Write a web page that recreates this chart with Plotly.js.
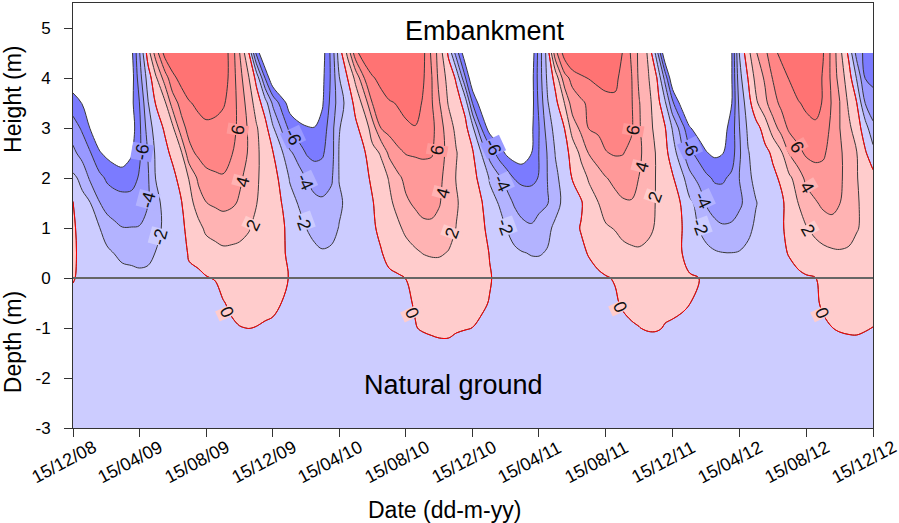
<!DOCTYPE html>
<html><head><meta charset="utf-8">
<script src="https://cdn.plot.ly/plotly-3.0.1.min.js"></script>
<style>html,body{margin:0;padding:0;background:#fff}#chart{width:899px;height:523px}</style>
</head><body><div id="chart"></div>
<script>
const FONT = 'Liberation Sans, Arial, sans-serif';

const dates = [
'2008-12-15',
'2009-01-01','2009-01-15','2009-02-01','2009-02-15','2009-03-01','2009-03-15','2009-04-01','2009-04-15','2009-05-01','2009-05-15','2009-06-01','2009-06-15',
'2009-07-01','2009-07-15','2009-08-01','2009-08-15','2009-09-01','2009-09-15','2009-10-01','2009-10-15','2009-11-01','2009-11-15','2009-12-01','2009-12-15',
'2010-01-01','2010-01-15','2010-02-01','2010-02-15','2010-03-01','2010-03-15','2010-04-01','2010-04-15','2010-05-01','2010-05-15','2010-06-01','2010-06-15',
'2010-07-01','2010-07-15','2010-08-01','2010-08-15','2010-09-01','2010-09-15','2010-10-01','2010-10-15','2010-11-01','2010-11-15','2010-12-01','2010-12-15',
'2011-01-01','2011-01-15','2011-02-01','2011-02-15','2011-03-01','2011-03-15','2011-04-01','2011-04-15','2011-05-01','2011-05-15','2011-06-01','2011-06-15',
'2011-07-01','2011-07-15','2011-08-01','2011-08-15','2011-09-01','2011-09-15','2011-10-01','2011-10-15','2011-11-01','2011-11-15','2011-12-01','2011-12-15',
'2012-01-01','2012-01-15','2012-02-01','2012-02-15','2012-03-01','2012-03-15','2012-04-01','2012-04-15','2012-05-01','2012-05-15','2012-06-01','2012-06-15',
'2012-07-01','2012-07-15','2012-08-01','2012-08-15','2012-09-01','2012-09-15','2012-10-01','2012-10-15','2012-11-01','2012-11-15','2012-12-01','2012-12-15'];

const heights = [-3, -1.5, -1, -0.5, 0, 0.5, 1, 1.5, 2, 2.5, 3, 3.5, 4, 4.5];

// temperature (deg C) rows, one per height
const tempH450 = [-11,-12,-13,-14,-15,-16,-16,-8.5,-4.3,1.0,
 4.9,8.8,10,11,11.5,11.5,11,10.5,9.2,7.1,
 4.1,0.1,-6.6,-11,-13,-14,-15,-15,-15,-14,
 -9,-5.4,-1.1,2.6,7.3,9.5,11,12,12.5,12.5,
 12,10.5,8.6,5.6,3.1,-0.4,-4.9,-9.5,-13,-14,
 -15,-16,-16,-16,-15,-9.5,-5.2,-1.0,5.3,9.0,
 11,12.5,13,13,12.5,11,7.8,5.7,3.5,1.7,
 -2.6,-10,-13,-14,-15,-15,-15,-14.5,-13,-8.1,
 -1.9,1.4,3.8,5.6,7.2,8.7,10,11,11,10.5,
 8.1,5.4,2.7,-0.5,-4.7,-6.6,-7.2];
const tempH400 = [-9.5,-10,-12,-13,-14,-15,-15,-9,-5.0,-1.1,
 1.6,5.0,7.4,8.8,9.8,10.4,10.5,10.4,9.2,7.1,
 4.8,2.1,-0.6,-6.1,-10,-12,-13,-14,-14,-13,
 -8.6,-5.6,-2.1,0.1,2.5,6.2,7.7,8.9,10,10.7,
 11,10.5,8.3,6.1,3.4,1.3,-0.3,-5.7,-10,-12,
 -13.5,-14.5,-15,-15,-14,-9.0,-5.1,-1.5,0.7,5.3,
 6.6,7.4,8.1,8.6,8.8,8.5,7.3,6.1,3.6,2.1,
 0.4,-4.6,-10,-12,-13,-14,-14,-13.5,-12,-8.1,
 -2.7,0.1,2.6,4.3,6.1,6.9,8.1,9.0,9.3,9.0,
 7.8,5.5,3.2,0.9,-2.1,-6.1,-6.6];
const tempH350 = [-7.0,-8.1,-10,-11.5,-12.5,-13,-13.5,-8.5,-6.1,-2.1,
 0.1,1.7,5.0,6.7,7.8,8.5,8.8,9.0,8.3,7.0,
 5.3,3.1,1.1,-1.1,-4.4,-7.0,-9,-10,-10.5,-10.5,
 -8.3,-5.3,-3.0,-1.2,0.6,2.9,6.1,6.9,7.7,8.2,
 8.7,8.9,7.8,6.2,4.1,1.8,0.9,-0.7,-6.2,-9.5,
 -11,-12,-12.5,-13,-12.5,-9.0,-5.5,-2.1,-0.6,2.1,
 5.0,5.7,6.3,6.8,7.3,7.6,7.2,6.2,4.1,2.5,
 1.1,-1.6,-5.6,-9,-11,-12,-12.5,-12.5,-11.5,-8.05,
 -3.5,-0.9,1.6,3.5,5.2,6.5,7.3,7.9,8.3,8.4,
 7.9,5.8,4.1,1.6,0.1,-4.1,-5.0];
const tempH300 = [-5.1,-6.3,-8.05,-9.5,-10.5,-11,-11.5,-9,-6.5,-3.1,
 -1.1,0.3,1.6,5.3,6.6,7.2,7.6,7.2,7.0,6.8,
 5.4,3.7,2.2,0.7,-1.7,-4.4,-6.6,-7.4,-7.8,-7.9,
 -7.2,-4.8,-2.1,-1.2,-0.4,0.9,3.0,6.1,6.7,7.2,
 7.6,7.9,7.5,6.6,4.9,2.9,1.5,0.6,-1.6,-6.3,
 -9.0,-10,-10.5,-10.5,-10.5,-8.5,-6.05,-3.0,-1.3,0.05,
 2.9,4.5,6.1,6.4,6.8,7.0,6.9,6.3,4.2,2.7,
 1.4,0.2,-2.2,-5.1,-7.8,-9,-9.5,-9.5,-9,-7.1,
 -4.05,-1.6,-0.8,0.9,3.0,4.9,6.4,7.0,7.5,7.8,
 7.1,5.5,4.05,2.4,1.0,-1.1,-3.6];
const tempH250 = [-3.5,-4.8,-5.8,-7.8,-8.5,-9,-9.3,-8.2,-6.4,-3.9,
 -1.7,-0.6,0.5,1.8,5.4,6.4,6.7,6.6,6.5,6.1,
 5.1,3.8,2.4,1.1,0.1,-1.8,-3.6,-5.0,-6.2,-6.6,
 -6.3,-4.8,-1.9,-1.3,-0.6,-0.1,1.4,2.2,4.4,5.6,
 6.1,6.2,6.3,6.2,4.8,3.4,2.1,1.0,0.2,-2.2,
 -4.8,-6.9,-8.4,-9,-9.2,-8.05,-5.95,-3.8,-1.9,-0.7,
 0.7,2.5,4.1,5.0,5.9,6.2,6.1,5.4,4.4,2.9,
 1.9,0.6,-1.0,-3.5,-5.5,-6.8,-7.9,-8.4,-8.1,-7.0,
 -4.3,-2.1,-1.3,-0.5,0.3,1.8,4.1,5.5,6.3,6.5,
 6.2,5.5,4.3,3.2,2.1,0.2,-1.2];
const tempH200 = [-1.6,-2.5,-4.3,-5.4,-6.3,-6.8,-7.0,-6.8,-5.8,-4.2,
 -1.95,-1.1,-0.6,0.8,2.1,4.4,5.5,5.8,5.9,5.3,
 4.3,3.4,2.3,1.2,0.5,-0.4,-2.2,-3.1,-4.1,-4.8,
 -4.9,-4.3,-1.95,-1.5,-1.0,-0.4,0.3,1.3,2.1,3.6,
 4.5,5.0,5.1,5.0,4.4,3.2,1.9,1.1,0.4,-0.5,
 -2.2,-3.6,-4.7,-6.1,-6.5,-6.5,-5.9,-3.9,-2.4,-1.2,
 0.1,1.1,2.2,3.2,3.9,4.5,4.8,4.6,3.95,3.0,
 1.9,1.0,0.2,-1.4,-3.3,-4.6,-5.6,-6.3,-6.3,-5.6,
 -3.95,-2.4,-1.5,-0.9,-0.4,0.3,1.6,3.0,4.5,5.2,
 5.5,5.3,4.3,3.3,2.1,1.3,0.6];
const tempH150 = [0.1,-1.5,-1.9,-3.9,-4.8,-5.0,-5.2,-5.2,-5.0,-4.1,
 -2.5,-1.5,-1.0,-0.1,1.2,3.0,3.95,4.3,4.5,4.3,
 3.8,2.9,2.05,1.4,0.7,-0.05,-1.2,-2.2,-3.0,-3.5,
 -3.7,-3.3,-2.2,-1.7,-1.2,-0.7,-0.1,0.8,1.6,2.6,
 3.7,4.3,4.6,4.5,4.1,3.2,2.2,1.3,0.8,0.05,
 -1.3,-2.1,-3.2,-4.2,-4.8,-4.9,-4.6,-4.1,-2.5,-1.6,
 -0.9,-0.2,1.1,1.95,2.8,3.4,3.8,3.9,3.5,2.7,
 1.9,1.1,0.5,-0.1,-1.6,-2.6,-4.2,-4.8,-5.0,-4.9,
 -4.4,-3.2,-2.1,-1.3,-0.7,-0.3,0.7,2.05,3.0,3.8,
 4.4,4.6,4.05,3.1,2.2,1.5,1.0];
const tempH100 = [0.3,-0.8,-1.2,-1.9,-3.0,-3.6,-3.95,-3.95,-3.9,-3.3,
 -2.6,-1.6,-1.2,-0.5,0.7,1.4,2.4,2.7,3.0,2.8,
 2.5,2.1,1.6,1.1,0.6,0.3,-0.6,-1.3,-2.05,-2.4,
 -2.5,-2.4,-1.95,-1.6,-1.2,-0.8,-0.3,0.5,1.0,1.7,
 2.4,3.1,3.6,3.7,3.5,2.7,1.95,1.1,0.6,0.3,
 -0.5,-1.3,-2.05,-2.9,-3.5,-3.8,-3.2,-2.3,-1.7,-1.1,
 -0.5,0.1,0.9,1.4,1.8,2.1,2.6,2.9,2.9,2.4,
 1.8,1.0,0.5,0.05,-1.2,-2.05,-2.8,-3.5,-3.8,-3.7,
 -3.1,-2.4,-1.7,-1.1,-0.6,-0.2,0.5,1.3,1.9,2.5,
 3.0,3.3,3.2,2.8,2.1,1.7,1.3];
const tempH050 = [0.3,-0.5,-0.8,-1.1,-1.6,-2.05,-2.4,-2.5,-2.6,-2.4,
 -1.95,-1.5,-1.2,-0.8,0.2,0.5,1.0,1.4,1.6,1.6,
 1.6,1.5,1.2,0.8,0.5,0.2,-0.3,-0.8,-1.3,-1.7,
 -1.9,-1.8,-1.5,-1.3,-1.0,-0.7,-0.5,-0.1,0.6,1.0,
 1.3,1.7,2.05,2.2,2.2,1.9,1.5,1.0,0.7,0.4,
 -0.05,-0.8,-1.2,-1.6,-1.9,-2.1,-2.1,-1.9,-1.5,-1.0,
 -0.7,-0.3,0.1,0.6,0.9,1.2,1.4,1.6,1.7,1.5,
 1.2,0.8,0.4,0.02,-0.6,-1.1,-1.5,-1.8,-1.95,-1.98,
 -1.9,-1.6,-1.2,-0.9,-0.6,-0.3,0.1,0.6,1.0,1.3,
 1.5,1.7,1.8,1.7,1.6,1.4,1.2];
const tempH000 = [0.15,-0.5,-0.6,-0.8,-1.0,-1.2,-1.4,-1.5,-1.6,-1.6,
 -1.5,-1.3,-1.1,-0.9,-0.4,-0.3,-0.1,0.1,0.6,0.9,
 0.9,0.9,0.8,0.6,0.4,0.2,-0.05,-0.4,-0.7,-0.9,
 -1.1,-1.2,-1.2,-1.2,-1.1,-1.0,-0.9,-0.7,-0.4,-0.2,
 0.02,0.4,0.8,1.0,1.0,0.9,0.8,0.6,0.4,0.25,
 0.08,-0.3,-0.6,-0.9,-1.1,-1.2,-1.3,-1.3,-1.2,-1.0,
 -0.9,-0.7,-0.5,-0.3,-0.1,0.1,0.5,0.8,0.9,0.8,
 0.7,0.5,0.4,0.3,0.15,0.03,-0.3,-0.6,-0.9,-1.1,
 -1.2,-1.2,-1.1,-1.0,-0.9,-0.7,-0.5,-0.3,-0.15,-0.02,
 0.4,0.7,0.9,1.0,1.0,0.9,0.8];
const tempM050 = [-0.6,-0.8,-0.8,-0.9,-1.0,-1.0,-1.1,-1.1,-1.1,-1.1,
 -1.1,-1.05,-1.0,-1.0,-0.9,-0.9,-0.8,-0.7,-0.1,0.3,
 0.4,0.4,0.4,0.3,0.2,-0.02,-0.3,-0.6,-0.8,-0.9,
 -1.0,-1.0,-1.0,-1.0,-1.0,-1.0,-1.0,-0.9,-0.8,-0.6,
 -0.3,0.15,0.4,0.5,0.55,0.5,0.45,0.35,0.25,0.15,
 -0.05,-0.4,-0.7,-0.9,-1.0,-1.0,-1.0,-1.0,-1.0,-1.0,
 -1.0,-1.0,-0.9,-0.8,-0.6,-0.2,0.2,0.4,0.5,0.5,
 0.45,0.35,0.25,0.15,0.03,-0.3,-0.6,-0.8,-0.9,-1.0,
 -1.0,-1.0,-1.0,-1.0,-1.0,-0.9,-0.8,-0.7,-0.5,-0.2,
 0.2,0.4,0.5,0.55,0.55,0.5,0.45];
const tempM100 = [-1,-1,-1,-1,-1,-1,-1,-1,-1,-1,
 -1,-1,-1,-1,-1,-1,-1,-0.9,-0.8,-0.24,
 -0.04,0.02,-0.03,-0.12,-0.16,-0.5,-0.8,-0.9,-1,-1,
 -1,-1,-1,-1,-1,-1,-1,-1,-1,-1,
 -0.9,-0.08,0.19,0.43,0.67,0.67,0.25,0.09,-0.01,-0.19,
 -0.6,-0.85,-1,-1,-1,-1,-1,-1,-1,-1,
 -1,-1,-1,-1,-0.95,-0.9,-0.43,-0.16,-0.03,0.16,
 0.16,-0.08,-0.14,-0.23,-0.5,-0.8,-1,-1,-1,-1,
 -1,-1,-1,-1,-1,-1,-1,-1,-1,-0.8,
 -0.24,-0.02,0.19,0.35,0.39,0.16,-0.02];
const tempM150 = [-1,-1,-1,-1,-1,-1,-1,-1,-1,-1,
 -1,-1,-1,-1,-1,-1,-1,-1,-1,-1,
 -1,-1,-1,-1,-1,-1,-1,-1,-1,-1,
 -1,-1,-1,-1,-1,-1,-1,-1,-1,-1,
 -1,-1,-1,-1,-1,-1,-1,-1,-1,-1,
 -1,-1,-1,-1,-1,-1,-1,-1,-1,-1,
 -1,-1,-1,-1,-1,-1,-1,-1,-1,-1,
 -1,-1,-1,-1,-1,-1,-1,-1,-1,-1,
 -1,-1,-1,-1,-1,-1,-1,-1,-1,-1,
 -1,-1,-1,-1,-1,-1,-1];
const tempM300 = [-1,-1,-1,-1,-1,-1,-1,-1,-1,-1,
 -1,-1,-1,-1,-1,-1,-1,-1,-1,-1,
 -1,-1,-1,-1,-1,-1,-1,-1,-1,-1,
 -1,-1,-1,-1,-1,-1,-1,-1,-1,-1,
 -1,-1,-1,-1,-1,-1,-1,-1,-1,-1,
 -1,-1,-1,-1,-1,-1,-1,-1,-1,-1,
 -1,-1,-1,-1,-1,-1,-1,-1,-1,-1,
 -1,-1,-1,-1,-1,-1,-1,-1,-1,-1,
 -1,-1,-1,-1,-1,-1,-1,-1,-1,-1,
 -1,-1,-1,-1,-1,-1,-1];

const z = [tempM300, tempM150, tempM100, tempM050, tempH000, tempH050, tempH100,
           tempH150, tempH200, tempH250, tempH300, tempH350, tempH400, tempH450];

// band colours: below -8, -8..-6, ..., above 8
const bandColors = ['#ffffff','#7b7bff','#9999ff','#b3b3ff','#ccccff',
                    '#ffcccc','#ffb3b3','#ff9999','#ff8585','#ff7373'];

// contour labels as printed on the chart
const labelText   = ['-6','-4','-2','0','6','4','2','-6','-4','-2',
                     '6','4','2','0','-6','-4','-2','6','4','2','0',
                     '-6','-4','-2','6','4','2','0'];
const labelDates  = ['2009-04-20','2009-05-01','2009-05-23','2009-09-22','2009-10-12','2009-10-21','2009-11-09','2010-01-21','2010-02-12','2010-02-08',
                     '2010-10-11','2010-10-22','2010-11-07','2010-08-26','2011-01-21','2011-02-06','2011-02-12','2011-10-04','2011-10-20','2011-11-13','2011-09-10',
                     '2012-01-16','2012-02-08','2012-02-03','2012-07-29','2012-08-16','2012-08-18','2012-09-13'];
const labelHeights = [2.52,1.56,0.82,-0.68,2.96,1.92,1.06,2.82,1.92,1.12,
                      2.56,1.70,0.90,-0.70,2.62,1.90,1.02,2.96,2.22,1.62,-0.58,
                      2.60,1.56,1.02,2.62,1.82,0.96,-0.70];
const labelAngles = [-80,-75,-75,65,-80,-75,-65,65,65,70,
                     -80,-75,-70,65,65,65,70,-80,-75,-70,65,
                     65,65,70,60,60,60,65];
const labelBg = {'-6':'#9999ff','-4':'#b3b3ff','-2':'#ccccff','0':'#ffcccc','2':'#ffcccc','4':'#ffb3b3','6':'#ff9999'};

const tickDates = ['2008-12-15','2009-04-15','2009-08-15','2009-12-15','2010-04-15','2010-08-15',
                   '2010-12-15','2011-04-15','2011-08-15','2011-12-15','2012-04-15','2012-08-15','2012-12-15'];
const tickText = ['15/12/08','15/04/09','15/08/09','15/12/09','15/04/10','15/08/10',
                  '15/12/10','15/04/11','15/08/11','15/12/11','15/04/12','15/08/12','15/12/12'];
const yTicks = [-3,-2,-1,0,1,2,3,4,5];
const yTickText = ['-3','-2','-1','0','1','2','3','4','5'];

const fillTrace = {
  type:'contour', x:dates, y:heights, z:z, autocontour:false,
  contours:{start:-8, end:8, size:2, coloring:'fill', showlines:false},
  colorscale: bandColors.map((c,i)=>[i/(bandColors.length-1), c]),
  line:{width:0, smoothing:1}, showscale:false, hoverinfo:'skip'
};
function lineTrace(start, end, size, color){
  return {type:'contour', x:dates, y:heights, z:z, autocontour:false,
    contours:{start:start, end:end, size:size, coloring:'none', showlabels:false},
    line:{color:color, width:1, smoothing:1}, showscale:false, hoverinfo:'skip'};
}
const traces = [
  fillTrace,
  lineTrace(-8, 8, 2, '#383838'),
  lineTrace(0, 0, 1, '#ff0000')
];

const annotations = [
  {text:'Embankment', x:0.515, y:0.934, xref:'paper', yref:'paper', xanchor:'center', yanchor:'middle', showarrow:false, font:{family:FONT, size:27, color:'#000'}},
  {text:'Natural ground', x:0.475, y:0.101, xref:'paper', yref:'paper', xanchor:'center', yanchor:'middle', showarrow:false, font:{family:FONT, size:27, color:'#000'}},
  {text:'Date (dd-m-yy)', x:0.464, y:0, yshift:-82, xref:'paper', yref:'paper', xanchor:'center', yanchor:'middle', showarrow:false, font:{family:FONT, size:23, color:'#000'}},
  {text:'Height (m)', x:-0.075, y:0.772, xref:'paper', yref:'paper', xanchor:'center', yanchor:'middle', showarrow:false, textangle:-90, font:{family:FONT, size:23, color:'#000'}},
  {text:'Depth (m)', x:-0.075, y:0.202, xref:'paper', yref:'paper', xanchor:'center', yanchor:'middle', showarrow:false, textangle:-90, font:{family:FONT, size:23, color:'#000'}}
];
tickDates.forEach((d,i)=>{
  annotations.push({text:tickText[i], x:d, xref:'x', y:0, yref:'paper', xshift:-9, yshift:-34,
    xanchor:'center', yanchor:'middle', textangle:-28, showarrow:false, font:{family:FONT, size:18, color:'#000'}});
});
labelText.forEach((t,i)=>{
  annotations.push({text:t, x:labelDates[i], y:labelHeights[i], xref:'x', yref:'y', xanchor:'center', yanchor:'middle',
    textangle:labelAngles[i], showarrow:false, bgcolor:labelBg[t], borderpad:0,
    font:{family:FONT, size:18, color:'#111'}});
});

const layout = {
  width:899, height:523, margin:{l:73, r:26, t:3, b:95},
  paper_bgcolor:'#ffffff', plot_bgcolor:'#ffffff', showlegend:false,
  font:{family:FONT, size:16, color:'#000'},
  xaxis:{type:'date', range:[dates[0], dates[dates.length-1]], tickvals:tickDates, showticklabels:false,
         ticks:'outside', ticklen:8, tickcolor:'#333', showline:true, mirror:true, linecolor:'#333', linewidth:1,
         showgrid:false, zeroline:false},
  yaxis:{range:[-3,5.5], tickvals:yTicks, ticktext:yTickText, ticks:'outside', ticklen:8, tickcolor:'#333',
         ticklabelstandoff:10, tickfont:{family:FONT, size:17, color:'#000'},
         showline:true, mirror:true, linecolor:'#333', linewidth:1, showgrid:false, zeroline:false},
  shapes:[{type:'line', xref:'paper', x0:0, x1:1, yref:'y', y0:0, y1:0, line:{color:'#666666', width:1.8}}],
  annotations:annotations
};
Plotly.newPlot('chart', traces, layout, {staticPlot:true, displayModeBar:false});
</script>
</body></html>
